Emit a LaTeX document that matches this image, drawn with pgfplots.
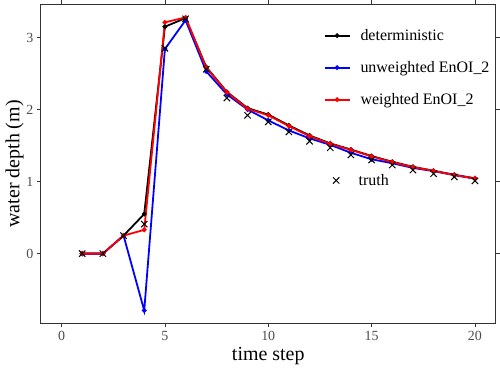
\documentclass[border=0pt]{standalone}
\usepackage{pgfplots}
\pgfplotsset{compat=1.18}
\usepackage{fontspec}
\setmainfont{Liberation Serif}
\usetikzlibrary{calc}
\definecolor{framegray}{RGB}{51,51,51}
\definecolor{ticklab}{RGB}{77,77,77}
\pgfplotsset{
  commonax/.style={
    scale only axis, width=456bp, height=320bp,
    xmin=-1, xmax=21, ymin=-0.97, ymax=3.46,
  },
  truthimg/.style={legend image code/.code={\path[draw=none] (0bp,0bp) -- (25bp,0bp); \draw[##1] plot coordinates {(12.5bp,0bp)};}},
}
\begin{document}
\begin{tikzpicture}
\begin{axis}[commonax, name=ax,
  axis line style={framegray, line width=0.8bp},
  tick style={framegray, line width=0.8bp},
  tick align=outside, major tick length=4bp,
  xtick={0,5,10,15,20}, ytick={0,1,2,3},
  ticklabel style={font=\fontsize{14bp}{16bp}\selectfont, text=ticklab},
  /pgf/number format/assume math mode=true,
  xlabel={time step}, ylabel={water depth (m)},
  label style={font=\fontsize{20bp}{22bp}\selectfont},
  xlabel style={yshift=0bp},
  ylabel style={yshift=-4bp},
  legend style={draw=none, fill=none, at={(0.615,0.935)}, anchor=north west,
    font=\fontsize{16bp}{18bp}\selectfont, row sep=15.5bp,
    /tikz/every odd column/.append style={column sep=8bp}},
  legend cell align=left,
  legend image code/.code={\draw[#1, line width=1.9bp] (0bp,0bp) -- (25bp,0bp); \draw[#1] plot coordinates {(12.5bp,0bp)};},
  mark size=1.4bp,
]
\addplot[black, line width=1.8bp, mark=*] coordinates {
(1,0)(2,0)(3,0.25)(4,0.55)(5,3.15)(6,3.27)(7,2.59)(8,2.245)(9,2.02)(10,1.93)
(11,1.78)(12,1.64)(13,1.53)(14,1.445)(15,1.355)(16,1.275)(17,1.205)(18,1.15)(19,1.095)(20,1.045)};
\addlegendentry{deterministic}
\addplot[blue, line width=1.8bp, mark=*] coordinates {
(1,0)(2,0)(3,0.25)(4,-0.79)(5,2.84)(6,3.24)(7,2.53)(8,2.21)(9,2.0)(10,1.85)
(11,1.71)(12,1.60)(13,1.51)(14,1.40)(15,1.31)(16,1.255)(17,1.19)(18,1.145)(19,1.09)(20,1.04)};
\addlegendentry{unweighted EnOI\_2}
\addplot[red, line width=1.8bp, mark=*] coordinates {
(1,0)(2,0)(3,0.25)(4,0.33)(5,3.21)(6,3.28)(7,2.58)(8,2.24)(9,2.01)(10,1.92)
(11,1.77)(12,1.63)(13,1.525)(14,1.44)(15,1.35)(16,1.27)(17,1.20)(18,1.15)(19,1.09)(20,1.045)};
\addlegendentry{weighted EnOI\_2}
\addplot[black, only marks, mark=x, mark size=4.5bp, line width=1bp, forget plot] coordinates {
(1,0)(2,0)(3,0.25)(4,0.41)(5,2.85)(6,3.26)(7,2.56)(8,2.16)(9,1.92)(10,1.83)
(11,1.69)(12,1.56)(13,1.47)(14,1.37)(15,1.30)(16,1.23)(17,1.16)(18,1.11)(19,1.065)(20,1.01)};
\end{axis}
\begin{axis}[commonax, hide axis,
  legend style={draw=none, fill=none, at={(0.615,0.481)}, anchor=north west,
    font=\fontsize{16bp}{18bp}\selectfont,
    /tikz/every odd column/.append style={column sep=8bp}},
  legend cell align=left,
]
\addlegendimage{black, only marks, mark=x, mark size=4.5bp, line width=1bp, truthimg}
\addlegendentry{truth}
\end{axis}
\path[use as bounding box] ($(ax.south west)+(-41bp,-47bp)$) rectangle ($(ax.north east)+(3bp,3bp)$);
\end{tikzpicture}
\end{document}
